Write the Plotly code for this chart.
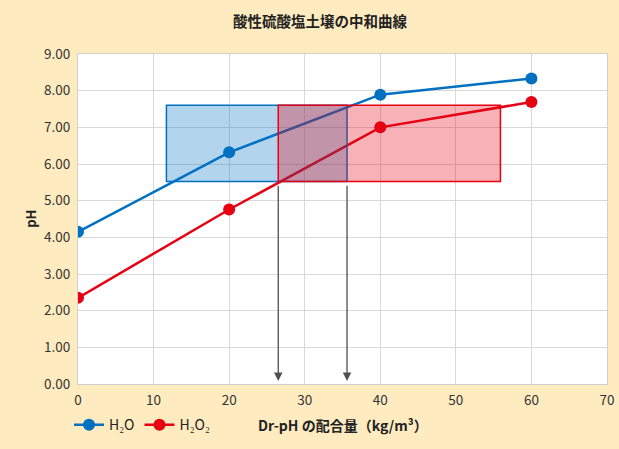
import plotly.graph_objects as go

# Data
x_vals = [0, 20, 40, 60]
ph_h2o = [4.15, 6.32, 7.89, 8.33]
ph_h2o2 = [2.35, 4.76, 7.00, 7.69]
series_names = ["H₂O", "H₂O₂"]

# Target ranges (rectangles): [x0, x1, y0, y1]
blue_range = [11.7, 35.6, 5.52, 7.60]
red_range = [26.5, 55.9, 5.52, 7.60]
arrow_x = [26.5, 35.6]
arrow_y = [5.45, 0.08]

title_text = "酸性硫酸塩土壌の中和曲線"
x_title = "Dr-pH の配合量（kg/m³）"
y_title = "pH"

BLUE = "#0070C0"
RED = "#E60012"
BG = "#FFEBC0"
FONT = "Noto Sans CJK JP"

fig = go.Figure()
fig.add_trace(go.Scatter(x=x_vals, y=ph_h2o, mode="lines+markers", name=series_names[0],
                         line=dict(color=BLUE, width=2.5), marker=dict(size=12, color=BLUE)))
fig.add_trace(go.Scatter(x=x_vals, y=ph_h2o2, mode="lines+markers", name=series_names[1],
                         line=dict(color=RED, width=2.5), marker=dict(size=12, color=RED)))

fig.add_shape(type="rect", xref="x", yref="y", x0=blue_range[0], x1=blue_range[1],
              y0=blue_range[2], y1=blue_range[3], line=dict(color=BLUE, width=1.5),
              fillcolor="rgba(0,112,192,0.30)", layer="above")
fig.add_shape(type="rect", xref="x", yref="y", x0=red_range[0], x1=red_range[1],
              y0=red_range[2], y1=red_range[3], line=dict(color=RED, width=1.5),
              fillcolor="rgba(230,0,18,0.30)", layer="above")

for ax_x in arrow_x:
    fig.add_annotation(x=ax_x, y=arrow_y[1], ax=ax_x, ay=arrow_y[0], xref="x", yref="y",
                       axref="x", ayref="y", showarrow=True, arrowhead=2, arrowsize=1.3,
                       arrowwidth=1.3, arrowcolor="#505050", text="")

# Axis titles as annotations (fixed positions)
fig.add_annotation(text="<b>" + x_title + "</b>", xref="paper", yref="paper", x=0.5, y=-0.124,
                   xanchor="center", yanchor="middle", showarrow=False,
                   font=dict(size=14, color="#222222"))
fig.add_annotation(text="<b>" + y_title + "</b>", xref="paper", yref="paper", x=-0.091, y=0.5,
                   xanchor="center", yanchor="middle", showarrow=False, textangle=-90,
                   font=dict(size=13, color="#222222"))

fig.update_layout(
    width=619, height=449, autosize=False,
    paper_bgcolor=BG, plot_bgcolor="white",
    margin=dict(l=78, r=12, t=54, b=65),
    font=dict(family=FONT, size=13, color="#333333"),
    title=dict(text="<b>" + title_text + "</b>", x=0.517, xanchor="center", y=0.951, yanchor="middle",
               font=dict(size=14.5, color="#222222")),
    showlegend=True,
    legend=dict(orientation="h", x=-0.017, xanchor="left", yref="container", y=0.053, yanchor="middle",
                bgcolor="rgba(0,0,0,0)", font=dict(size=14, color="#222222"),
                itemwidth=30, tracegroupgap=0),
)
fig.update_xaxes(range=[0, 70], dtick=10, showgrid=True, gridcolor="#D9D9D9", gridwidth=1,
                 showline=True, linecolor="#D0D0D0", mirror=True, zeroline=False, automargin=False,
                 ticks="", ticklabelstandoff=4, tickfont=dict(size=13.5, color="#333333"))
fig.update_yaxes(range=[0, 9], dtick=1, tickformat=".2f", showgrid=True, gridcolor="#D9D9D9",
                 gridwidth=1, showline=True, linecolor="#D0D0D0", mirror=True, zeroline=False,
                 automargin=False,
                 ticks="", ticklabelstandoff=4, tickfont=dict(size=13.5, color="#333333"))

fig.write_html("out.html", config={"responsive": False, "displayModeBar": False},
               post_script="document.body.style.margin='0';document.body.style.overflow='hidden';")
